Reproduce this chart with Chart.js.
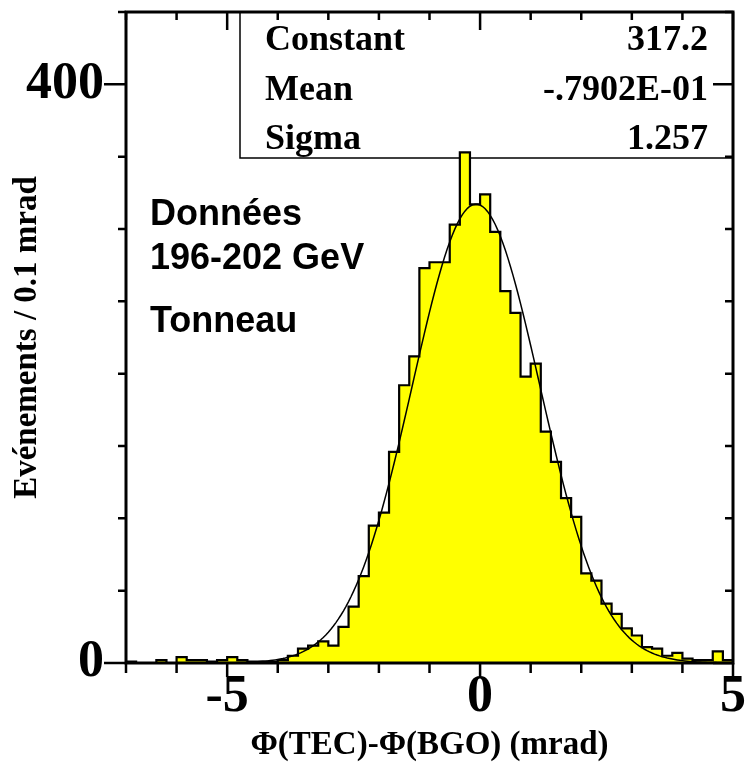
<!DOCTYPE html>
<html>
<head>
<meta charset="utf-8">
<script src="https://cdn.jsdelivr.net/npm/chart.js@4.4.1/dist/chart.umd.min.js"></script>
<style>
  html, body { margin: 0; padding: 0; background: #fff; }
  #wrap { width: 745px; height: 763px; }
</style>
</head>
<body>
<div id="wrap"><canvas id="graphe" width="745" height="763"></canvas></div>
<script>
(function () {
    'use strict';

    // histogramme : 60 classes de 0.2 mrad entre -7 et 5
    const BIN_START = -7;
    const BIN_WIDTH = 0.2;
    const COUNTS = [
        1, 0, 0, 2, 0, 4, 2, 2, 1, 2,
        4, 2, 1, 1, 1, 2, 5, 10, 12, 15,
        12, 25, 39, 60, 95, 104, 146, 192, 212, 273,
        277, 277, 303, 353, 317, 324, 298, 257, 242, 198,
        207, 160, 139, 114, 101, 62, 57, 41, 34, 24,
        19, 11, 10, 5, 7, 3, 2, 2, 8, 2
    ];

    const X_LABELS = [-5, 0, 5];
    const Y_LABELS = [0, 400];

    // parametres de l'ajustement gaussien (cadre de stats)
    const FIT_CONSTANT = 317.2;
    const FIT_MEAN = -0.07902;
    const FIT_SIGMA = 1.257;

    const STATS_NAMES = ['Constant', 'Mean', 'Sigma'];
    const STATS_VALUES = ['317.2', '-.7902E-01', '1.257'];
    const NOTES = ['Données', '196-202 GeV', 'Tonneau'];

    const SERIF = '"Liberation Serif", "DejaVu Serif", serif';
    const SANS = '"Liberation Sans", Arial, sans-serif';

    const histo = COUNTS.map((n, i) => ({ x: BIN_START + i * BIN_WIDTH, y: n }));
    histo.push({ x: BIN_START + COUNTS.length * BIN_WIDTH, y: COUNTS[COUNTS.length - 1] });

    const courbe = [];
    for (let i = 0; i <= 240; i++) {
        const x = BIN_START + i * 0.05;
        const t = (x - FIT_MEAN) / FIT_SIGMA;
        courbe.push({ x, y: FIT_CONSTANT * Math.exp(-0.5 * t * t) });
    }

    const cadre = {
        id: 'cadre',
        beforeDatasetsDraw(chart) {
            const { ctx, chartArea: a } = chart;
            ctx.save();
            ctx.strokeStyle = '#000';
            ctx.lineWidth = 1.5;
            ctx.beginPath();
            ctx.moveTo(a.left + 114, a.top);
            ctx.lineTo(a.left + 114, a.top + 146);
            ctx.lineTo(a.right, a.top + 146);
            ctx.stroke();

            ctx.fillStyle = '#000';
            ctx.font = 'bold 36px ' + SERIF;
            ctx.textBaseline = 'alphabetic';
            STATS_NAMES.forEach((nom, i) => {
                const yb = a.top + 38 + i * 49.5;
                ctx.textAlign = 'left';
                ctx.fillText(nom, a.left + 139, yb);
                ctx.textAlign = 'right';
                ctx.fillText(STATS_VALUES[i], a.right - 25, yb);
            });
            ctx.restore();
        },
        afterDatasetsDraw(chart) {
            const { ctx, chartArea: a, scales: { x, y } } = chart;
            ctx.save();
            ctx.strokeStyle = '#000';
            ctx.lineWidth = 2.5;
            ctx.beginPath();
            for (let v = Math.ceil(x.min); v <= x.max; v += 1) {
                const px = x.getPixelForValue(v);
                const major = X_LABELS.includes(v);
                ctx.moveTo(px, a.bottom);
                ctx.lineTo(px, a.bottom + (major ? 14 : 10));
                ctx.moveTo(px, a.top);
                ctx.lineTo(px, a.top + (major ? 18 : 8));
            }
            for (let v = 0; v <= y.max; v += 50) {
                const py = y.getPixelForValue(v);
                const major = Y_LABELS.includes(v);
                ctx.moveTo(a.left, py);
                ctx.lineTo(a.left - (major ? 22 : 8), py);
                ctx.moveTo(a.right, py);
                ctx.lineTo(a.right - (major ? 20 : 8), py);
            }
            ctx.stroke();
            ctx.lineWidth = 3;
            ctx.strokeRect(a.left, a.top, a.right - a.left, a.bottom - a.top);
            ctx.restore();
        },
        afterDraw(chart) {
            const { ctx, chartArea: a } = chart;
            ctx.save();
            ctx.fillStyle = '#000';
            ctx.font = 'bold 36px ' + SANS;
            ctx.textAlign = 'left';
            ctx.textBaseline = 'alphabetic';
            ctx.fillText(NOTES[0], a.left + 24, a.top + 213);
            ctx.fillText(NOTES[1], a.left + 24, a.top + 257);
            ctx.fillText(NOTES[2], a.left + 24, a.top + 320);
            ctx.restore();
        }
    };

    new Chart(document.getElementById('graphe'), {
        type: 'line',
        data: {
            datasets: [
                {
                    label: 'ajustement',
                    data: courbe,
                    borderColor: '#000',
                    borderWidth: 1.5,
                    pointRadius: 0,
                    fill: false,
                    tension: 0,
                    order: 0
                },
                {
                    label: 'histogramme',
                    data: histo,
                    stepped: true,
                    borderColor: '#000',
                    borderWidth: 2.2,
                    backgroundColor: '#ffff00',
                    fill: 'origin',
                    pointRadius: 0,
                    order: 1
                }
            ]
        },
        options: {
            responsive: false,
            animation: false,
            layout: { padding: { top: 12, left: 0, right: 0, bottom: 0 } },
            plugins: {
                legend: { display: false },
                tooltip: { enabled: false }
            },
            scales: {
                x: {
                    type: 'linear',
                    position: 'bottom',
                    min: -7,
                    max: 5,
                    grid: { display: false },
                    border: { display: false },
                    afterBuildTicks: (axe) => { axe.ticks = X_LABELS.map((v) => ({ value: v })); },
                    afterFit: (axe) => { axe.height = 100; axe.paddingLeft = 0; axe.paddingRight = 12; },
                    ticks: {
                        padding: 1,
                        color: '#000',
                        maxRotation: 0,
                        autoSkip: false,
                        font: { family: SERIF, size: 52, weight: 'bold', lineHeight: 1 }
                    },
                    title: {
                        display: true,
                        text: 'Φ(TEC)-Φ(BGO) (mrad)',
                        color: '#000',
                        font: { family: SERIF, size: 33, weight: 'bold', lineHeight: 1 },
                        padding: { top: 0, bottom: 1 }
                    }
                },
                y: {
                    min: 0,
                    max: 450,
                    grid: { display: false },
                    border: { display: false },
                    afterBuildTicks: (axe) => { axe.ticks = Y_LABELS.map((v) => ({ value: v })); },
                    afterFit: (axe) => { axe.width = 126; axe.paddingTop = 0; axe.paddingBottom = 0; },
                    ticks: {
                        padding: 14,
                        color: '#000',
                        font: { family: SERIF, size: 52, weight: 'bold', lineHeight: 1 }
                    },
                    title: {
                        display: true,
                        text: 'Evénements / 0.1 mrad',
                        color: '#000',
                        font: { family: SERIF, size: 33, weight: 'bold', lineHeight: 1 },
                        padding: { top: 11, bottom: 0 }
                    }
                }
            }
        },
        plugins: [cadre]
    });
})();
</script>
</body>
</html>
